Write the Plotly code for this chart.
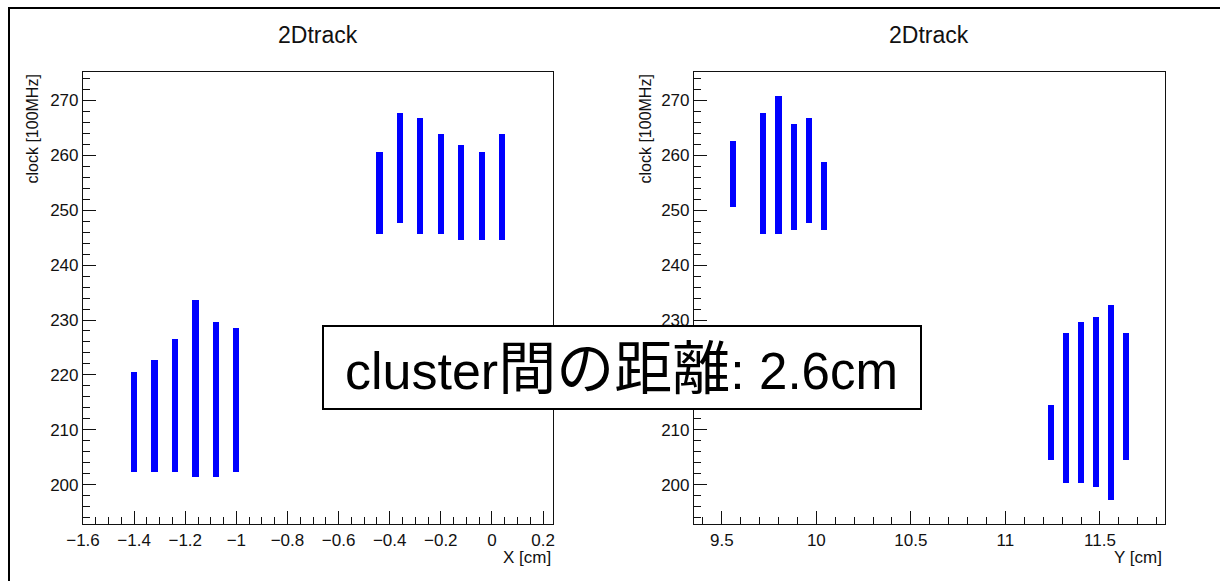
import plotly.graph_objects as go

# ---------------- data ----------------
plot_title = "2Dtrack"
y_title = "clock [100MHz]"
left_x_title = "X [cm]"
right_x_title = "Y [cm]"
box_text_parts = ["cluster", "間の距離", ": ", "2.6cm"]

left_x = [-1.40, -1.32, -1.24, -1.16, -1.08, -1.00,
          -0.44, -0.36, -0.28, -0.20, -0.12, -0.04, 0.04]
left_low = [202.4, 202.4, 202.4, 201.5, 201.5, 202.4,
            245.6, 247.6, 245.6, 245.6, 244.5, 244.5, 244.5]
left_high = [220.5, 222.7, 226.6, 233.6, 229.6, 228.5,
             260.6, 267.6, 266.8, 263.8, 261.8, 260.6, 263.8]

right_x = [9.56, 9.72, 9.80, 9.88, 9.96, 10.04,
           11.24, 11.32, 11.40, 11.48, 11.56, 11.64]
right_low = [250.6, 245.6, 245.6, 246.4, 247.6, 246.4,
             204.5, 200.4, 200.4, 199.6, 197.3, 204.5]
right_high = [262.5, 267.6, 270.7, 265.6, 266.7, 258.7,
              214.5, 227.7, 229.6, 230.5, 232.7, 227.7]

# ---------------- layout helpers ----------------
W, H = 1220, 581
FONT = "Liberation Sans, Arial, Helvetica, sans-serif"
BOXFONT = "Liberation Sans, Noto Sans CJK JP, sans-serif"
INK = "#111111"
BLUE = "#0000ff"


def fx(p):
    return p / W


def fy(p):
    return 1 - p / H


fig = go.Figure()

fig.add_trace(go.Bar(
    x=left_x, base=left_low,
    y=[h - l for h, l in zip(left_high, left_low)],
    width=0.024, marker=dict(color=BLUE, line=dict(width=0)),
    xaxis="x", yaxis="y", showlegend=False, hoverinfo="skip"))

fig.add_trace(go.Bar(
    x=right_x, base=right_low,
    y=[h - l for h, l in zip(right_high, right_low)],
    width=0.032, marker=dict(color=BLUE, line=dict(width=0)),
    xaxis="x2", yaxis="y2", showlegend=False, hoverinfo="skip"))

common_axis = dict(
    showgrid=False, zeroline=False, showline=True, linecolor=INK,
    linewidth=1.2, mirror=True, ticks="inside", ticklen=13, tickwidth=1.2,
    tickcolor=INK, tickfont=dict(family=FONT, size=17, color=INK),
    automargin=False,
)

top, bottom = 72, 524
ydom = [fy(bottom), fy(top)]

fig.update_layout(
    width=W, height=H,
    margin=dict(l=0, r=0, t=0, b=0, autoexpand=False),
    paper_bgcolor="white", plot_bgcolor="white",
    bargap=0,
    xaxis=dict(domain=[fx(83), fx(553)], range=[-1.6, 0.239],
               tick0=-1.6, dtick=0.2, anchor="y",
               minor=dict(ticks="inside", ticklen=7, dtick=0.05, tick0=-1.6,
                          tickcolor=INK, tickwidth=1.2),
               **common_axis),
    yaxis=dict(domain=ydom, range=[192.9, 275.1], tick0=200, dtick=10,
               anchor="x", ticklabelstandoff=0,
               minor=dict(ticks="inside", ticklen=7, dtick=2, tick0=200,
                          tickcolor=INK, tickwidth=1.2),
               **common_axis),
    xaxis2=dict(domain=[fx(694), fx(1165)], range=[9.353, 11.844],
                tick0=9.5, dtick=0.5, anchor="y2",
                minor=dict(ticks="inside", ticklen=7, dtick=0.1, tick0=9.5,
                           tickcolor=INK, tickwidth=1.2),
                **common_axis),
    yaxis2=dict(domain=ydom, range=[192.9, 275.1], tick0=200, dtick=10,
                anchor="x2", ticklabelstandoff=0,
                minor=dict(ticks="inside", ticklen=7, dtick=2, tick0=200,
                           tickcolor=INK, tickwidth=1.2),
                **common_axis),
)

annotations = []
# panel titles
for cx in (318, 929):
    annotations.append(dict(text=plot_title, x=fx(cx), y=fy(35),
                            xref="paper", yref="paper", showarrow=False,
                            xanchor="center", yanchor="middle",
                            font=dict(family=FONT, size=23, color=INK)))
# y axis titles
for cx in (32, 645):
    annotations.append(dict(text=y_title, x=fx(cx), y=fy(73),
                            xref="paper", yref="paper", showarrow=False,
                            textangle=-90, xanchor="center", yanchor="top",
                            font=dict(family=FONT, size=16, color=INK)))
# x axis titles
annotations.append(dict(text=left_x_title, x=fx(553), y=fy(557),
                        xref="paper", yref="paper", showarrow=False,
                        xanchor="right", yanchor="middle",
                        font=dict(family=FONT, size=17, color=INK)))
annotations.append(dict(text=right_x_title, x=fx(1164), y=fy(557),
                        xref="paper", yref="paper", showarrow=False,
                        xanchor="right", yanchor="middle",
                        font=dict(family=FONT, size=17, color=INK)))
# big text box label (CJK glyphs set slightly larger, as in the reference)
sizes = [52, 58, 52, 51]
box_html = "".join(
    f'<span style="font-size:{s}px">{t}</span>'
    for t, s in zip(box_text_parts, sizes))
annotations.append(dict(text=box_html, x=fx(621), y=fy(368),
                        xref="paper", yref="paper", showarrow=False,
                        xanchor="center", yanchor="middle",
                        font=dict(family=BOXFONT, size=52, color="black")))
fig.update_layout(annotations=annotations)

fig.update_layout(shapes=[
    # outer frame
    dict(type="rect", xref="paper", yref="paper",
         x0=fx(9), x1=fx(1240), y0=fy(600), y1=fy(8),
         line=dict(color="black", width=2), fillcolor="rgba(0,0,0,0)",
         layer="above"),
    # text box
    dict(type="rect", xref="paper", yref="paper",
         x0=fx(323), x1=fx(921), y0=fy(409), y1=fy(326),
         line=dict(color="black", width=2), fillcolor="white",
         layer="above"),
])

fig.write_html("out.html")
